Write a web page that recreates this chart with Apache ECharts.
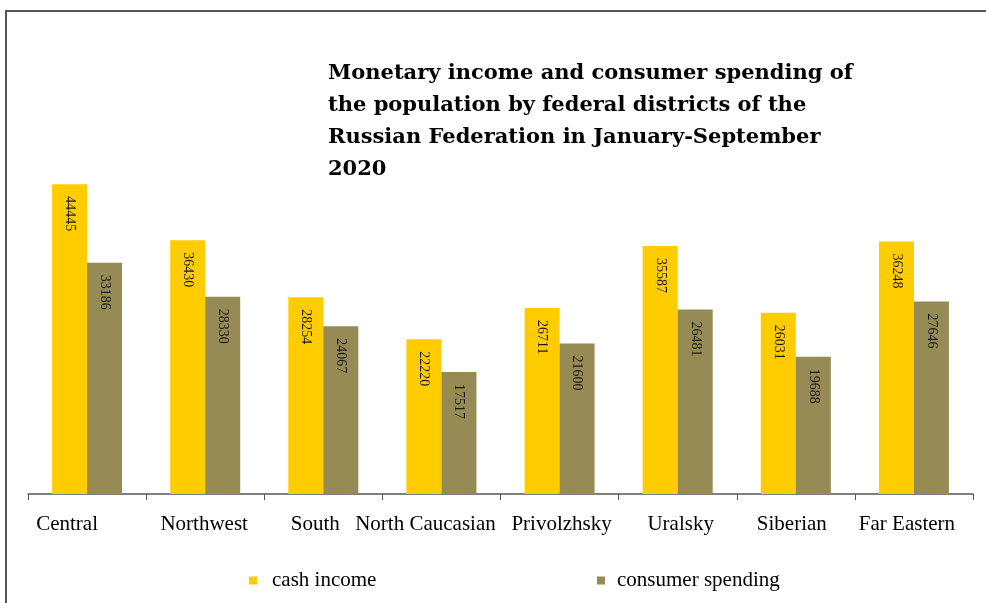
<!DOCTYPE html>
<html><head><meta charset="utf-8">
<script src="https://cdn.jsdelivr.net/npm/echarts@6/dist/echarts.min.js"></script>
<style>html,body{margin:0;padding:0;background:#fff}#c{width:986px;height:603px}</style>
</head><body><div id="c"></div>
<script>
const categories = ['Central', 'Northwest', 'South', 'North Caucasian', 'Privolzhsky', 'Uralsky', 'Siberian', 'Far Eastern'];
const cashIncome = [44445, 36430, 28254, 22220, 26711, 35587, 26031, 36248];
const consumerSpending = [33186, 28330, 24067, 17517, 21600, 26481, 19688, 27646];
const seriesNames = ['cash income', 'consumer spending'];
const titleText = 'Monetary income and consumer spending of\nthe population by federal districts of the\nRussian Federation in January-September\n2020';

// per-label padding [right, left] (style only) to mimic the original's uneven label placement
const labelPadRight = [40, 2, 16, 32, 0, 0, 8, 14];
const labelPadLeft = [0, 0, 0, 0, 4, 6, 0, 0];

const chart = echarts.init(document.getElementById('c'), null, {renderer: 'canvas'});
const labelCfg = {
  show: true, position: 'insideTop', rotate: -90, align: 'left', verticalAlign: 'middle',
  distance: 12, color: '#1a1a1a', fontFamily: 'Liberation Serif', fontSize: 14
};
chart.setOption({
  animation: false,
  backgroundColor: '#fff',
  title: {
    text: titleText, left: 323, top: 53,
    textStyle: {fontFamily: 'DejaVu Serif', fontWeight: 'bold', fontSize: 21, lineHeight: 32, color: '#000'}
  },
  graphic: [{
    type: 'polyline', shape: {points: [[6, 603], [6, 11], [986, 11]]},
    style: {stroke: '#555', lineWidth: 2, fill: null}
  }],
  legend: [{
    data: [seriesNames[0]], left: 244, top: 565, itemWidth: 8, itemHeight: 8, icon: 'rect',
    textStyle: {fontFamily: 'Liberation Serif', fontSize: 21, color: '#000', padding: [0, 0, 0, 10]}
  }, {
    data: [seriesNames[1]], left: 592, top: 565, itemWidth: 8, itemHeight: 8, icon: 'rect',
    textStyle: {fontFamily: 'Liberation Serif', fontSize: 21, color: '#000', padding: [0, 0, 0, 7]}
  }],
  grid: {left: 28, right: 13, top: 76, bottom: 109, containLabel: false},
  xAxis: {
    type: 'category',
    data: categories.map((c, i) => ({value: c, textStyle: {padding: [0, labelPadRight[i], 0, labelPadLeft[i]]}})),
    axisLine: {lineStyle: {color: '#555', width: 1.5}},
    axisTick: {show: true, length: 6, lineStyle: {color: '#555'}},
    axisLabel: {fontFamily: 'Liberation Serif', fontSize: 21, color: '#000', margin: 20, interval: 0}
  },
  yAxis: {type: 'value', min: 0, max: 60000, show: false, splitLine: {show: false}},
  series: [{
    name: seriesNames[0], type: 'bar', data: cashIncome, barWidth: 35, barGap: '0%',
    itemStyle: {color: '#FFCC00'}, label: labelCfg
  }, {
    name: seriesNames[1], type: 'bar', data: consumerSpending, barWidth: 35,
    itemStyle: {color: '#968B55'}, label: labelCfg
  }]
});
</script></body></html>
